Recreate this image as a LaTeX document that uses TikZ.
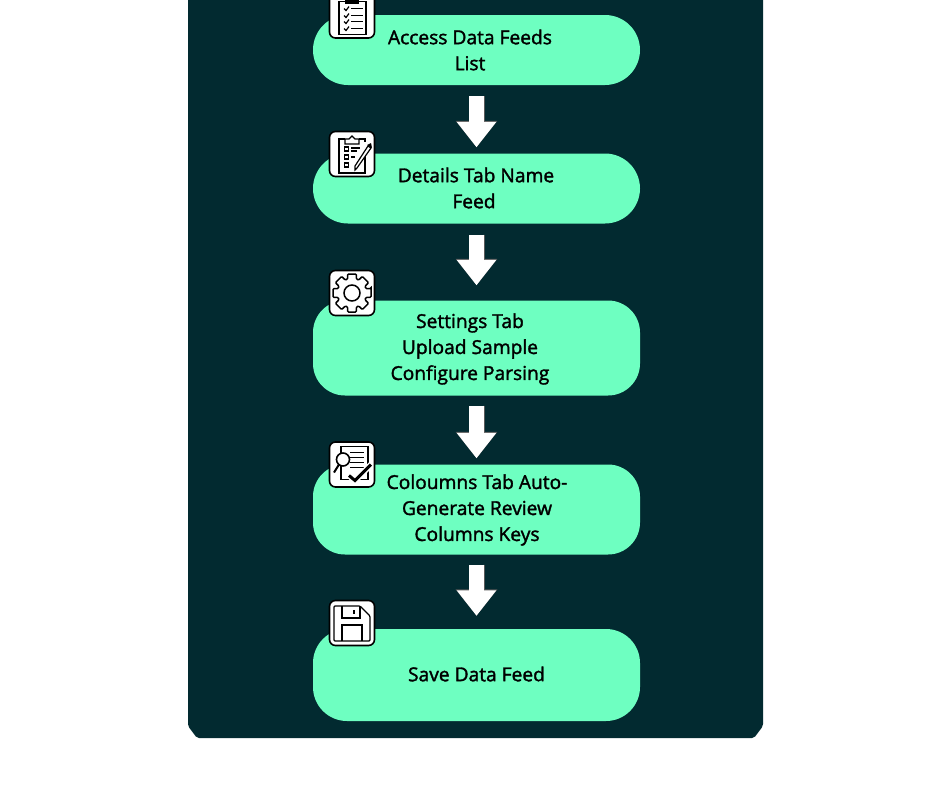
\documentclass[tikz,border=0pt]{standalone}
\usepackage{fontspec}
\setmainfont{Open Sans}[FakeBold=1.7]
\usepackage{tikz}
\usetikzlibrary{arrows.meta}
\definecolor{panelcol}{HTML}{022A30}
\definecolor{mintcol}{HTML}{6EFFC1}
\tikzset{
	flowbox/.style={rectangle, fill=mintcol, minimum width=327, inner sep=0},
	flowtext/.style={align=center, inner sep=0, font=\fontsize{19.2}{26}\selectfont},
	iconbox/.style={rectangle, draw=black, fill=white, line width=1.6, rounded corners=6, minimum width=45, minimum height=45, inner sep=0},
	iconline/.style={draw=black, line width=1.2},
	flowarrow/.style={draw=white, line width=15, -{Triangle[length=25.5, width=38]},
		preaction={draw=black!65, line width=16, -{Triangle[length=26.5, width=40]}}},
	pics/checklist/.style={code={
		\draw[iconline] (-13,-14) rectangle (14,19);
		\fill[black] (-7,-12) rectangle (7,-19);
		\foreach \y in {-7,0,6,13} {
			\draw[iconline] (-8,\y) -- (-6,\y+2) -- (-3,\y-2);
			\draw[iconline] (-1,\y) -- (11,\y);
		}
	}},
	pics/formpen/.style={code={
		\draw[iconline] (13,-1) -- (13,19) -- (-13,19) -- (-13,-15) -- (-7,-15);
		\draw[iconline] (7,-15) -- (13,-15) -- (13,-12);
		\draw[iconline] (-7,-10) -- (-7,-15) -- (-3,-15) -- (0,-18) -- (3,-15) -- (7,-15) -- (7,-10) -- cycle;
		\foreach \y in {-5,3,11} {
			\draw[iconline] (-7.5,\y-2) rectangle (-3.5,\y+2);
		}
		\draw[iconline] (-1,-6) -- (8,-6);
		\draw[iconline] (-1,-3) -- (5,-3);
		\draw[iconline] (-1,3) -- (3,3);
		\draw[iconline, fill=white] (3,12) -- (16,-8) -- (19,-6) -- (5,14) -- (3,16) -- cycle;
		\fill[black] (15,-9) -- (19,-11) -- (20,-6) -- cycle;
	}},
	pics/gear/.style={code={
		\draw[iconline, line width=1.5, rounded corners=1] (-13:19.5)
			\foreach \a in {0,45,...,315} {-- (\a-13:19.5) -- (\a+13:19.5) -- (\a+18:14.5) -- (\a+27:14.5)} -- cycle;
		\draw[iconline, line width=1.5] (0,0) circle (8);
	}},
	pics/review/.style={code={
		\draw[iconline] (-11,-18) rectangle (16,15);
		\foreach \y in {-12,-7,-2,3} {
			\draw[iconline, line width=1.5] (-2,\y) -- (12,\y);
		}
		\draw[iconline, fill=white, line width=1.6] (-9,-5) circle (6.5);
		\draw[black, line width=2] (-13,0) -- (-18,8);
		\draw[white, line width=6] (-3,11) -- (3,16) -- (19,0);
		\draw[black, line width=3] (-3,11) -- (3,16) -- (19,0);
	}},
	pics/floppy/.style={code={
		\draw[iconline, rounded corners=1] (-18,-17) -- (8,-17) -- (18,-7) -- (18,18) -- (-18,18) -- cycle;
		\draw[iconline] (-10,-17) -- (-10,-5) -- (8,-5) -- (8,-17);
		\draw[iconline] (2,-13) -- (2,-9);
		\draw[iconline] (-10,18) -- (-10,2) -- (10,2) -- (10,18);
	}}
}
\begin{document}
\begin{tikzpicture}[x=1pt, y=-1pt]
	\clip (0,0) rectangle (940,788);
	\fill[panelcol, rounded corners=2] (188,-30) -- (188,726) -- (197,738) -- (754,738) -- (763,726) -- (763,-30) -- cycle;

	\node[flowbox, minimum height=70, rounded corners=35] (A) at (476.5,50) {};
	\node[flowbox, minimum height=70, rounded corners=35] (B) at (476.5,188.5) {};
	\node[flowbox, minimum height=95, rounded corners=32] (C) at (476.5,348) {};
	\node[flowbox, minimum height=90, rounded corners=32] (D) at (476.5,509.5) {};
	\node[flowbox, minimum height=92, rounded corners=34] (E) at (476.5,675) {};

	\node[flowtext] (Atext) at (470,50) {Access Data Feeds\\List};
	\node[flowtext] (Btext) at (476,188) {Details Tab Name\\Feed\kern4pt\relax};
	\node[flowtext] (Ctext) at (470,349) {Settings Tab\\Upload Sample\\Configure Parsing};
	\node[flowtext] (Dtext) at (477,510) {Coloumns Tab Auto-\\Generate Review\\Columns Keys};
	\node[flowtext] (Etext) at (476.5,674) {Save Data Feed};

	\draw[flowarrow, shorten <=11, shorten >=6]  (A) -- (B);
	\draw[flowarrow, shorten <=11, shorten >=15]  (B) -- (C);
	\draw[flowarrow, shorten <=10, shorten >=6]  (C) -- (D);
	\draw[flowarrow, shorten <=10, shorten >=13]  (D) -- (E);

	\node[iconbox] (Aicon) at (352,15.5) {};
	\node[iconbox] (Bicon) at (352,154) {};
	\node[iconbox] (Cicon) at (352,293) {};
	\node[iconbox] (Dicon) at (352,464.5) {};
	\node[iconbox] (Eicon) at (352,623) {};

	\pic at (Aicon) {checklist};
	\pic at (Bicon) {formpen};
	\pic at (Cicon) {gear};
	\pic at (Dicon) {review};
	\pic at (Eicon) {floppy};
\end{tikzpicture}
\end{document}
